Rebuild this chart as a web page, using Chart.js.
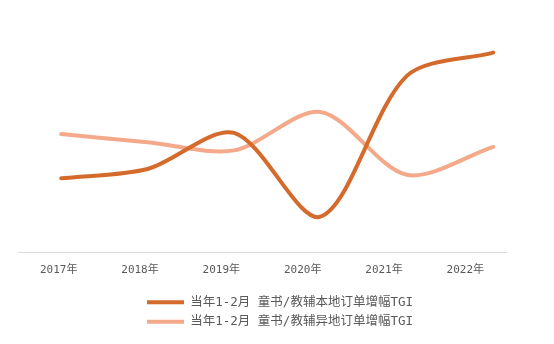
<!DOCTYPE html>
<html>
<head>
<meta charset="utf-8">
<script src="https://cdn.jsdelivr.net/npm/chart.js@4/dist/chart.umd.min.js"></script>
<style>
  html, body { margin: 0; padding: 0; background: #ffffff; }
  #wrap { width: 554px; height: 344px; position: relative; }
</style>
</head>
<body>
<div id="wrap"><canvas id="c" width="554" height="344"></canvas></div>
<script>
const years = ["2017年", "2018年", "2019年", "2020年", "2021年", "2022年"];
const localTGI = [32, 36, 51.5, 15.5, 76, 86];
const remoteTGI = [51, 47.5, 44, 60.5, 33.5, 45.5];
const seriesNames = ["当年1-2月 童书/教辅本地订单增幅TGI", "当年1-2月 童书/教辅异地订单增幅TGI"];

const darkColor = "#D46A2B";
const lightColor = "#F3A98A";
const FONT = "'DejaVu Sans Mono', 'Noto Sans CJK SC', sans-serif";

function pts(arr) { return arr.map((v, i) => ({ x: i, y: v })); }

new Chart(document.getElementById("c"), {
  type: "line",
  data: {
    labels: years,
    datasets: [
      { label: seriesNames[0], data: pts(localTGI), borderColor: darkColor, backgroundColor: darkColor,
        borderWidth: 4, pointRadius: 0, tension: 0.3, fill: false, xAxisID: "xd", borderCapStyle: "round" },
      { label: seriesNames[1], data: pts(remoteTGI), borderColor: lightColor, backgroundColor: lightColor,
        borderWidth: 4, pointRadius: 0, tension: 0.3, fill: false, xAxisID: "xd", borderCapStyle: "round" }
    ]
  },
  options: {
    responsive: false,
    animation: false,
    events: [],
    layout: { padding: { top: 20, left: 18, right: 12, bottom: 6 } },
    scales: {
      x: {
        type: "category",
        labels: years,
        offset: true,
        grid: { display: false },
        border: { display: true, color: "#d9d9d9", width: 1 },
        ticks: { color: "#595959", font: { family: FONT, size: 11 }, padding: 3, maxRotation: 0 },
        afterFit(s) { s.height += 9; }
      },
      xd: {
        type: "linear",
        display: false,
        min: -0.5,
        max: 5.148
      },
      y: {
        display: false,
        min: 0,
        max: 100
      },
      yr: {
        position: "right",
        display: true,
        grid: { display: false },
        border: { display: false },
        ticks: { display: false },
        afterFit(s) { s.width = 36; }
      }
    },
    plugins: {
      tooltip: { enabled: false },
      legend: {
        position: "bottom",
        align: "center",
        labels: {
          color: "#595959",
          font: { family: FONT, size: 12.5 },
          boxWidth: 37,
          boxHeight: 4,
          padding: 7,
          generateLabels(chart) {
            const items = Chart.defaults.plugins.legend.labels.generateLabels(chart);
            items.forEach(it => { it.lineWidth = 0; it.fillStyle = it.strokeStyle; });
            return items;
          }
        }
      }
    }
  }
});
</script>
</body>
</html>
